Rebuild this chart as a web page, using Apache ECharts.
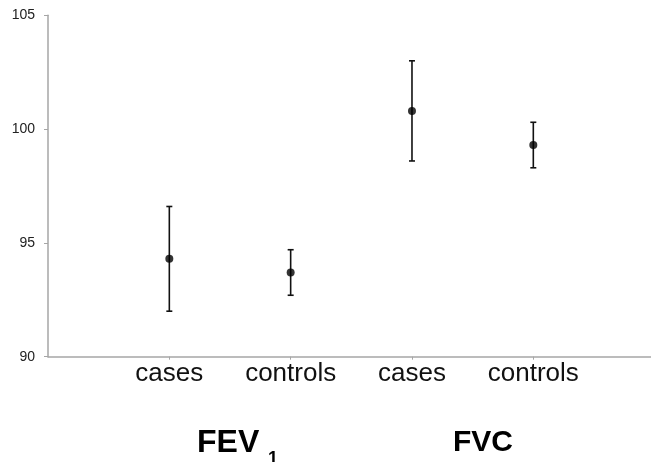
<!DOCTYPE html>
<html>
<head>
<meta charset="utf-8">
<script src="https://cdn.jsdelivr.net/npm/echarts@6/dist/echarts.min.js"></script>
<style>
html,body{margin:0;padding:0;background:#fff;}
#chart{width:651px;height:462px;}
</style>
</head>
<body>
<div id="chart"></div>
<script>
var categories = ['cases', 'controls', 'cases', 'controls'];
var means = [94.3, 93.7, 100.8, 99.3];
var lower = [92.0, 92.7, 98.6, 98.3];
var upper = [96.6, 94.7, 103.0, 100.3];
var yTicks = [90, 95, 100, 105];

var positions = categories.map(function (c, i) { return i + 1; });
var pointData = means.map(function (m, i) { return [positions[i], m]; });
var barData = means.map(function (m, i) { return [positions[i], lower[i], upper[i]]; });

var chart = echarts.init(document.getElementById('chart'), null, {renderer: 'canvas'});
var font = 'Liberation Sans, Arial, sans-serif';
var axisColor = '#a6a6a6';

chart.setOption({
  animation: false,
  backgroundColor: '#fff',
  grid: {left: 48, right: 0, top: 15.3, bottom: 105.3, containLabel: false},
  xAxis: {
    type: 'value', min: 0, max: 4.97, interval: 1,
    splitLine: {show: false},
    axisLine: {show: true, lineStyle: {color: axisColor, width: 1.5}},
    axisTick: {show: true, length: 3, inside: false, customValues: positions, lineStyle: {color: axisColor, width: 1}},
    axisLabel: {
      show: true, customValues: positions, margin: 4,
      fontSize: 26, fontFamily: font, color: '#111',
      formatter: function (v) { var i = Math.round(v) - 1; return categories[i] || ''; }
    }
  },
  yAxis: {
    type: 'value', min: yTicks[0], max: yTicks[yTicks.length - 1], interval: 5,
    splitLine: {show: false},
    axisLine: {show: true, lineStyle: {color: axisColor, width: 1.5}},
    axisTick: {show: true, length: 4, lineStyle: {color: axisColor, width: 1}},
    axisLabel: {margin: 13, fontSize: 14, fontFamily: font, color: '#222'}
  },
  series: [
    {
      type: 'custom',
      data: barData,
      z: 2,
      renderItem: function (params, api) {
        var x = api.value(0);
        var lo = api.coord([x, api.value(1)]);
        var hi = api.coord([x, api.value(2)]);
        var cap = 3;
        var st = {stroke: '#111', lineWidth: 1.6};
        return {
          type: 'group',
          children: [
            {type: 'line', shape: {x1: lo[0], y1: lo[1], x2: hi[0], y2: hi[1]}, style: st},
            {type: 'line', shape: {x1: lo[0] - cap, y1: lo[1], x2: lo[0] + cap, y2: lo[1]}, style: st},
            {type: 'line', shape: {x1: hi[0] - cap, y1: hi[1], x2: hi[0] + cap, y2: hi[1]}, style: st}
          ]
        };
      }
    },
    {
      type: 'scatter',
      data: pointData,
      symbol: 'circle',
      symbolSize: 8,
      z: 3,
      itemStyle: {color: '#000'}
    }
  ],
  graphic: [
    {type: 'text', left: 197, top: 427, style: {text: 'FEV', font: 'bold 32px ' + font, fill: '#000'}},
    {type: 'text', left: 268, top: 450, style: {text: '1', font: 'bold 18px ' + font, fill: '#000'}},
    {type: 'text', left: 453, top: 428, style: {text: 'FVC', font: 'bold 30px ' + font, fill: '#000'}}
  ]
});
</script>
</body>
</html>
